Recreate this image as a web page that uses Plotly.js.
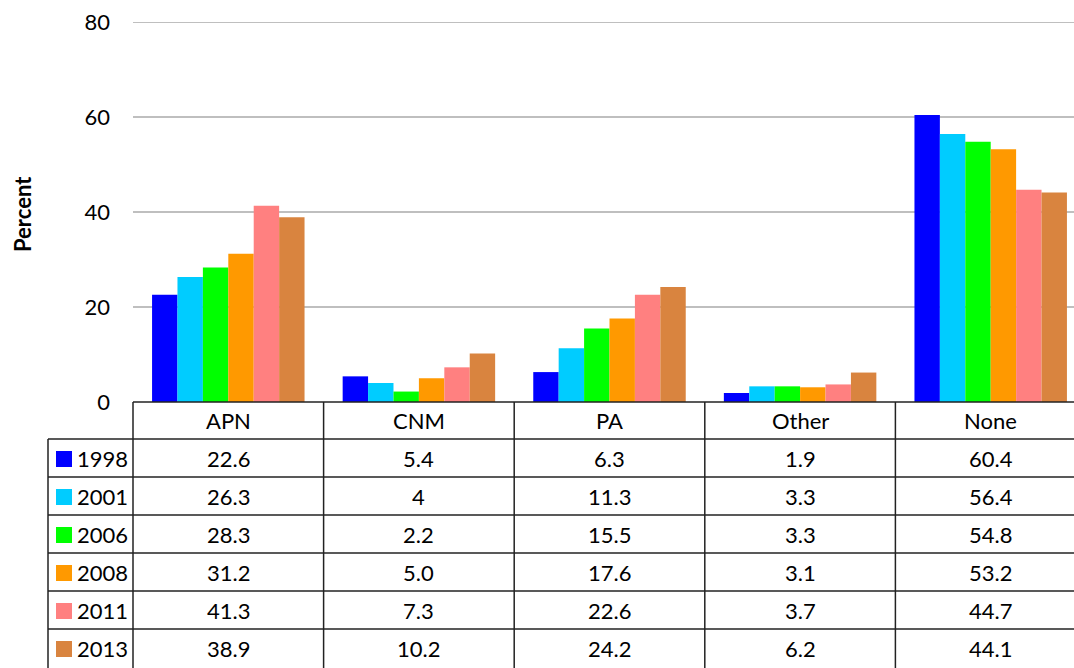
<!DOCTYPE html>
<html>
<head>
<meta charset="utf-8">
<script src="https://cdn.plot.ly/plotly-3.0.1.min.js"></script>
<style>
html,body{margin:0;padding:0;overflow:hidden;background:#fff;}
#chart{width:1090px;height:668px;}
</style>
</head>
<body>
<div id="chart"></div>
<script>
const categories = ["APN", "CNM", "PA", "Other", "None"];
const years = ["1998", "2001", "2006", "2008", "2011", "2013"];
const values1998 = [22.6, 5.4, 6.3, 1.9, 60.4];
const values2001 = [26.3, 4, 11.3, 3.3, 56.4];
const values2006 = [28.3, 2.2, 15.5, 3.3, 54.8];
const values2008 = [31.2, 5.0, 17.6, 3.1, 53.2];
const values2011 = [41.3, 7.3, 22.6, 3.7, 44.7];
const values2013 = [38.9, 10.2, 24.2, 6.2, 44.1];
const labels1998 = ["22.6", "5.4", "6.3", "1.9", "60.4"];
const labels2001 = ["26.3", "4", "11.3", "3.3", "56.4"];
const labels2006 = ["28.3", "2.2", "15.5", "3.3", "54.8"];
const labels2008 = ["31.2", "5.0", "17.6", "3.1", "53.2"];
const labels2011 = ["41.3", "7.3", "22.6", "3.7", "44.7"];
const labels2013 = ["38.9", "10.2", "24.2", "6.2", "44.1"];
const colors = ["#0000ff", "#00ccff", "#00ff00", "#ff9900", "#ff8080", "#d9843f"];
const yTicks = [0, 20, 40, 60, 80];

const seriesValues = [values1998, values2001, values2006, values2008, values2011, values2013];
const seriesLabels = [labels1998, labels2001, labels2006, labels2008, labels2011, labels2013];

const FONT = "Lato, 'Open Sans', sans-serif";
const W = 1090, H = 668;
const mL = 133, mR = 4, mT = 22, mB = 266;
const plotW = W - mL - mR, plotH = H - mT - mB;
const axisY = H - mB; // pixel y of zero line
const py = p => (axisY - p) / plotH;   // pixel y -> paper y
const px = p => (p - mL) / plotW;      // pixel x -> paper x

const traces = years.map((yr, i) => ({
  type: "bar",
  name: yr,
  x: categories,
  y: seriesValues[i],
  marker: {color: colors[i], line: {width: 0}},
  hoverinfo: "skip"
}));

const headerH = 37, rowH = 38;
const tableTop = axisY;
const headerBottom = tableTop + headerH;
const legendLeft = 48;
const lineStyle = {color: "#222", width: 1.5};
const shapes = [];
const annotations = [];

// top gridline (at range end)
shapes.push({type: "line", xref: "paper", yref: "y", x0: 0, x1: 1, y0: yTicks[yTicks.length - 1], y1: yTicks[yTicks.length - 1],
  line: {color: "#bfbfbf", width: 2}, layer: "below"});
// top line of table
shapes.push({type: "line", xref: "paper", yref: "paper", x0: 0, x1: 1, y0: py(tableTop), y1: py(tableTop), line: lineStyle});
// left border of data columns
shapes.push({type: "line", xref: "paper", yref: "paper", x0: 0, x1: 0, y0: py(tableTop), y1: py(H + 5), line: lineStyle});
// legend column left border
shapes.push({type: "line", xref: "paper", yref: "paper", x0: px(legendLeft), x1: px(legendLeft), y0: py(headerBottom), y1: py(H + 5), line: lineStyle});
// column separators
for (let k = 0; k < categories.length; k++) {
  shapes.push({type: "line", xref: "x", yref: "paper", x0: k + 0.5, x1: k + 0.5, y0: py(tableTop), y1: py(H + 5), line: lineStyle});
}
// horizontal row lines
for (let r = 0; r < years.length; r++) {
  const yy = headerBottom + r * rowH;
  shapes.push({type: "line", xref: "paper", yref: "paper", x0: px(legendLeft), x1: 1, y0: py(yy), y1: py(yy), line: lineStyle});
}
// header labels
categories.forEach((c, k) => {
  annotations.push({xref: "x", yref: "paper", x: k, y: py(tableTop + headerH / 2), text: c, showarrow: false,
    xanchor: "center", yanchor: "middle", font: {family: FONT, size: 22, color: "#000"}});
});
// rows
years.forEach((yr, r) => {
  const cy = headerBottom + r * rowH + rowH / 2;
  shapes.push({type: "rect", xref: "paper", yref: "paper", x0: px(56), x1: px(72), y0: py(cy - 7), y1: py(cy + 9),
    fillcolor: colors[r], line: {width: 0}});
  annotations.push({xref: "paper", yref: "paper", x: px(75), y: py(cy), text: yr, showarrow: false,
    xanchor: "left", yanchor: "middle", font: {family: FONT, size: 22, color: "#000"}});
  categories.forEach((c, k) => {
    annotations.push({xref: "x", yref: "paper", x: k, y: py(cy), text: seriesLabels[r][k], showarrow: false,
      xanchor: "center", yanchor: "middle", font: {family: FONT, size: 22, color: "#000"}});
  });
});
// y axis title
annotations.push({xref: "paper", yref: "paper", x: px(22), y: py(214), text: "<b>Percent</b>", showarrow: false,
  textangle: -90, xanchor: "center", yanchor: "middle", font: {family: FONT, size: 22, color: "#000"}});

const layout = {
  width: W, height: H,
  margin: {l: mL, r: mR, t: mT, b: mB, pad: 0},
  paper_bgcolor: "#fff", plot_bgcolor: "#fff",
  showlegend: false,
  barmode: "group",
  bargap: 0.2, bargroupgap: 0,
  font: {family: FONT, color: "#000"},
  xaxis: {type: "category", range: [-0.5, 4.5], showticklabels: false, showgrid: false, zeroline: false,
    showline: false, ticks: "", fixedrange: true},
  yaxis: {range: [0, 80], tickvals: yTicks, ticktext: yTicks.map(String), showgrid: true, gridcolor: "#bfbfbf",
    gridwidth: 2, zeroline: false, showline: false, ticks: "", ticklabelstandoff: 22,
    tickfont: {family: FONT, size: 22, color: "#000"}, fixedrange: true},
  shapes: shapes,
  annotations: annotations
};

Plotly.newPlot("chart", traces, layout, {displayModeBar: false, staticPlot: true});
</script>
</body>
</html>
